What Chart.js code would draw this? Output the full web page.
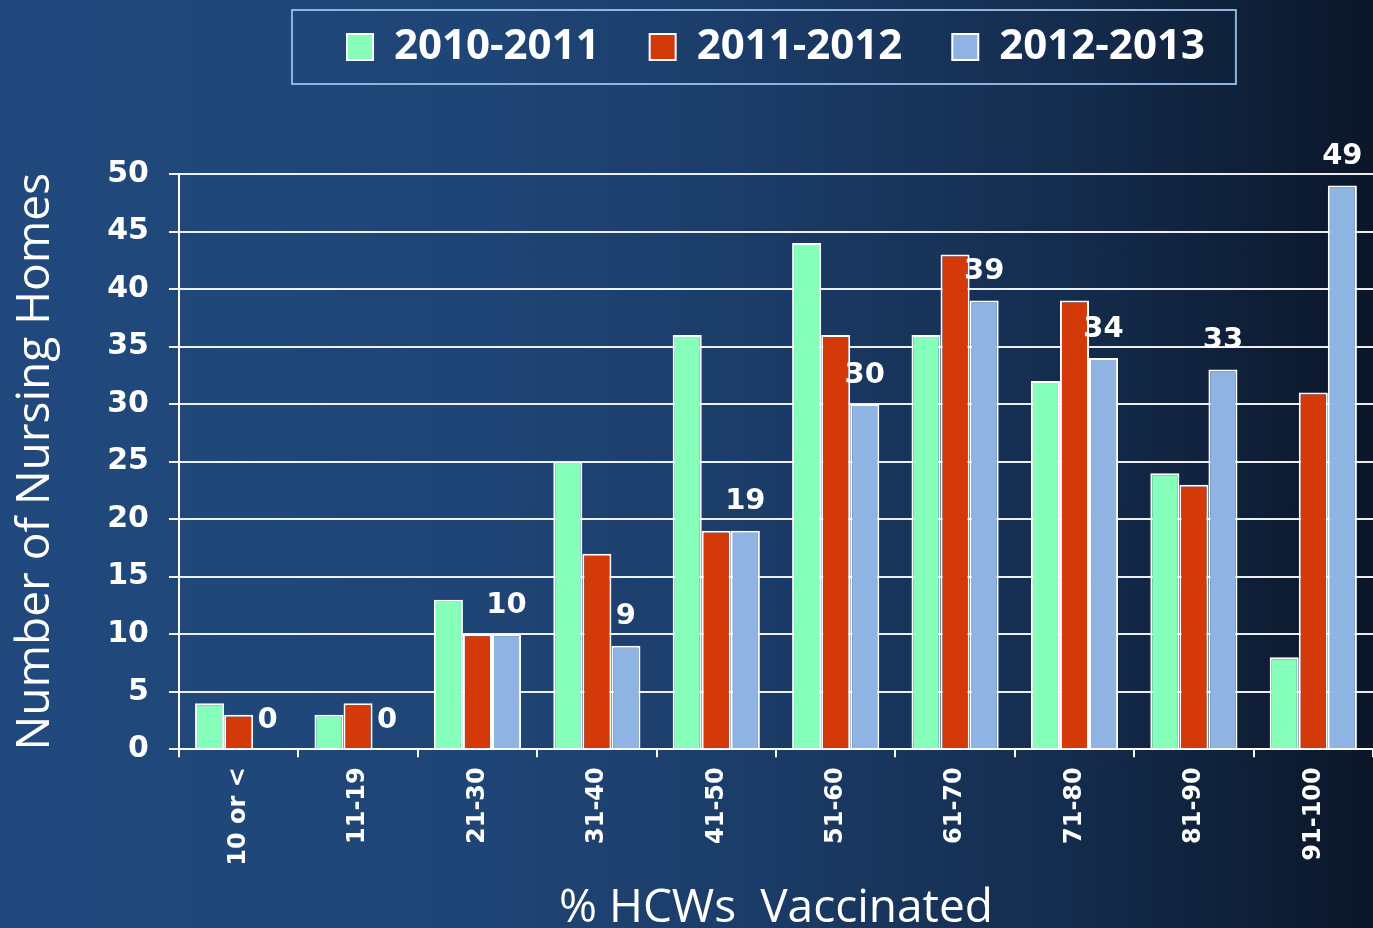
<!DOCTYPE html>
<html>
<head>
<meta charset="utf-8">
<script src="https://cdn.jsdelivr.net/npm/chart.js@4"></script>
<style>
    html, body { margin: 0; padding: 0; }
    body {
        width: 1373px; height: 928px; overflow: hidden;
        background: linear-gradient(to right, #21497d 0%, #1f4576 35%, #1b3c68 55%, #142c4d 78%, #0b1628 100%);
    }
    #wrap { position: relative; width: 1373px; height: 928px; }
</style>
</head>
<body>
<div id="wrap"><canvas id="myChart" width="1373" height="928"></canvas></div>
<script>
// categories and series
const categories = ["10 or <", "11-19", "21-30", "31-40", "41-50", "51-60", "61-70", "71-80", "81-90", "91-100"];
const season1 = [4, 3, 13, 25, 36, 44, 36, 32, 24, 8];     // 2010-2011
const season2 = [3, 4, 10, 17, 19, 36, 43, 39, 23, 31];    // 2011-2012
const season3 = [0, 0, 10, 9, 19, 30, 39, 34, 33, 49];     // 2012-2013
const seriesNames = ["2010-2011", "2011-2012", "2012-2013"];
const seriesColors = ["#86ffbb", "#d4390a", "#8fb4e3"];
const yTicks = [0, 5, 10, 15, 20, 25, 30, 35, 40, 45, 50];

Chart.defaults.font.family = "'DejaVu Sans', Verdana, sans-serif";
Chart.defaults.color = "#ffffff";

// push the plot down below the legend
const legendGap = {
    id: 'legendGap',
    beforeInit(chart) {
        const origFit = chart.legend.fit;
        chart.legend.fit = function () {
            origFit.bind(chart.legend)();
            this.height += 96;
        };
    }
};

// frame around the legend items
const legendFrame = {
    id: 'legendFrame',
    afterDraw(chart) {
        const boxes = chart.legend.legendHitBoxes;
        if (!boxes || !boxes.length) return;
        let left = Math.min(...boxes.map(b => b.left));
        let right = Math.max(...boxes.map(b => b.left + b.width));
        let top = Math.min(...boxes.map(b => b.top));
        let bottom = Math.max(...boxes.map(b => b.top + b.height));
        const ctx = chart.ctx;
        ctx.save();
        ctx.strokeStyle = "#8db4e2";
        ctx.lineWidth = 2;
        ctx.strokeRect(left - 55, top - 16, (right - left) + 86, (bottom - top) + 32);
        ctx.restore();
    }
};

// value labels on the 2012-2013 bars
const valueLabels = {
    id: 'valueLabels',
    afterDatasetsDraw(chart) {
        const ctx = chart.ctx;
        const meta = chart.getDatasetMeta(2);
        ctx.save();
        ctx.font = "bold 29px 'DejaVu Sans'";
        ctx.fillStyle = "#ffffff";
        ctx.textAlign = "center";
        ctx.textBaseline = "middle";
        meta.data.forEach((bar, i) => {
            ctx.fillText(String(season3[i]), bar.x, bar.y - 29);
        });
        ctx.restore();
    }
};

const ctx = document.getElementById("myChart");
new Chart(ctx, {
    type: 'bar',
    data: {
        labels: categories,
        datasets: [season1, season2, season3].map((vals, i) => ({
            label: seriesNames[i],
            data: vals,
            backgroundColor: seriesColors[i],
            borderColor: "#ffffff",
            borderWidth: 2,
            categoryPercentage: 0.73,
            barPercentage: 1.0
        }))
    },
    options: {
        responsive: false,
        animation: false,
        layout: { padding: { left: 8, right: 0, top: -24, bottom: -8 } },
        plugins: {
            tooltip: { enabled: false },
            legend: {
                position: 'top',
                fullSize: false,
                labels: {
                    boxWidth: 26,
                    boxHeight: 26,
                    padding: 50,
                    color: "#ffffff",
                    font: { family: "'Open Sans'", weight: 'bold', size: 42 }
                }
            }
        },
        scales: {
            x: {
                grid: {
                    offset: true,
                    drawOnChartArea: false,
                    drawTicks: true,
                    tickLength: 8,
                    color: "#ffffff",
                    lineWidth: 2
                },
                border: { color: "#ffffff", width: 2 },
                ticks: {
                    minRotation: 90,
                    maxRotation: 90,
                    padding: 10,
                    color: "#ffffff",
                    font: { weight: 'bold', size: 24 }
                },
                title: {
                    display: true,
                    text: "% HCWs  Vaccinated",
                    color: "#ffffff",
                    padding: { top: 5, bottom: 0 },
                    font: { family: "'Open Sans'", size: 46 }
                }
            },
            y: {
                min: 0,
                max: 50,
                afterBuildTicks: (axis) => { axis.ticks = yTicks.map(v => ({ value: v })); },
                grid: {
                    color: "rgba(255,255,255,0.92)",
                    lineWidth: 2,
                    tickLength: 10
                },
                border: { color: "#ffffff", width: 2 },
                ticks: {
                    padding: 20,
                    color: "#ffffff",
                    font: { weight: 'bold', size: 30 }
                },
                title: {
                    display: true,
                    text: "Number of Nursing Homes",
                    color: "#ffffff",
                    padding: { top: 0, bottom: 24 },
                    font: { family: "'Open Sans'", size: 46 }
                }
            }
        }
    },
    plugins: [legendGap, legendFrame, valueLabels]
});
</script>
</body>
</html>
